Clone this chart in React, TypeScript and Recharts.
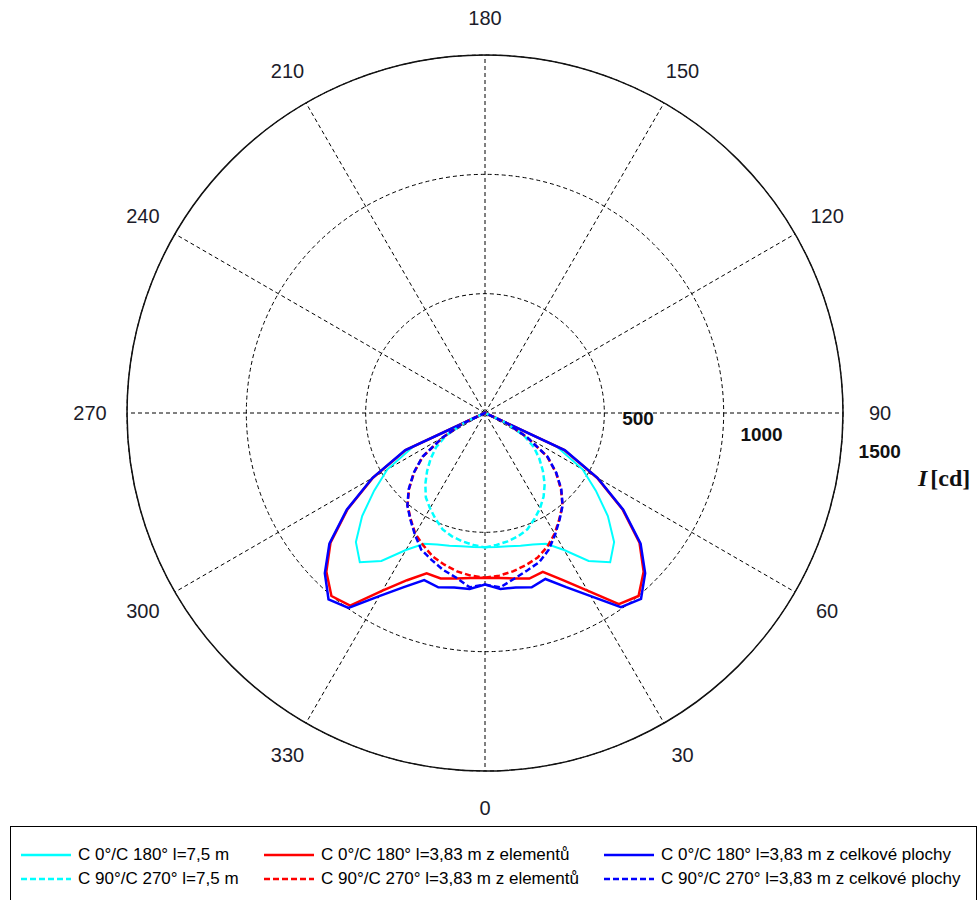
import React from 'react';
import { RadarChart, Radar, PolarGrid, PolarAngleAxis, PolarRadiusAxis, Legend } from 'recharts';

// angle gamma [deg], 0 = down, counter-clockwise on screen (30 lower right, 90 right)
const gammaDeg = [0, 5, 10, 15, 20, 25, 30, 35, 40, 45, 50, 55, 60, 65, 70,
  290, 295, 300, 305, 310, 315, 320, 325, 330, 335, 340, 345, 350, 355];

// C 0/C 180, l = 7.5 m (cyan solid)
const c0_75 = [563, 564, 567, 576, 586, 605, 663, 757, 816, 765, 672, 567, 472, 330, 0,
  0, 330, 472, 567, 672, 765, 816, 757, 663, 605, 586, 576, 567, 564];
// C 90/C 270, l = 7.5 m (cyan dashed)
const c90_75 = [563, 555, 546, 535, 519, 490, 461, 428, 389, 343, 297, 250, 188, 90, 0,
  0, 90, 188, 250, 297, 343, 389, 432, 461, 490, 519, 535, 546, 555];
// C 0/C 180, l = 3.83 m z elementu (red solid)
const c0_383e = [690, 694, 704, 718, 708, 773, 859, 978, 1001, 940, 845, 703, 542, 365, 0,
  0, 365, 542, 703, 845, 940, 1001, 985, 859, 773, 715, 718, 704, 694];
// C 90/C 270, l = 3.83 m z elementu (red dashed)
const c90_383e = [690, 684, 674, 660, 645, 618, 584, 543, 505, 450, 388, 318, 203, 98, 0,
  0, 98, 203, 318, 388, 450, 505, 543, 584, 612, 640, 658, 674, 684];
// C 0/C 180, l = 3.83 m z celkove plochy (blue solid)
const c0_383c = [719, 740, 742, 756, 740, 805, 886, 993, 1017, 949, 851, 707, 545, 370, 0,
  0, 370, 545, 707, 851, 949, 1020, 997, 886, 805, 745, 756, 742, 740];
// C 90/C 270, l = 3.83 m z celkove plochy (blue dashed)
const c90_383c = [719, 733, 705, 683, 665, 632, 588, 545, 506, 452, 390, 320, 205, 100, 0,
  0, 100, 205, 320, 390, 452, 506, 545, 588, 632, 655, 680, 700, 733];

const angleTicks = [0, 30, 60, 90, 120, 150, 180, 210, 240, 270, 300, 330];
const radiusDomain = [0, 1500];

const seriesList = [
  { key: 'c0_75', name: 'C 0°/C 180° l=7,5 m', color: '#00FFFF', dash: undefined, width: 2 },
  { key: 'c0_383e', name: 'C 0°/C 180° l=3,83 m z elementů', color: '#FF0000', dash: undefined, width: 2.5 },
  { key: 'c0_383c', name: 'C 0°/C 180° l=3,83 m z celkové plochy', color: '#0000FF', dash: undefined, width: 2.5 },
  { key: 'c90_75', name: 'C 90°/C 270° l=7,5 m', color: '#00FFFF', dash: '6 3', width: 2.5 },
  { key: 'c90_383e', name: 'C 90°/C 270° l=3,83 m z elementů', color: '#FF0000', dash: '6 3', width: 2.5 },
  { key: 'c90_383c', name: 'C 90°/C 270° l=3,83 m z celkové plochy', color: '#0000FF', dash: '6 3', width: 2.5 },
];

const data = gammaDeg.map((g, i) => ({
  gamma: g,
  c0_75: c0_75[i],
  c90_75: c90_75[i],
  c0_383e: c0_383e[i],
  c90_383e: c90_383e[i],
  c0_383c: c0_383c[i],
  c90_383c: c90_383c[i],
}));

const FONT = 'Arial, "Liberation Sans", sans-serif';

const AngleTick = (props: any) => {
  const { x, y, payload } = props;
  return (
    <text x={x} y={y} textAnchor="middle" dominantBaseline="central" fontSize={20} fontFamily={FONT} fill="#1c1c2a">
      {payload.value}
    </text>
  );
};

const RadiusTick = (props: any) => {
  const { x, y, payload } = props;
  if (!payload || payload.value === 0) return <g />;
  return (
    <text x={x + 19} y={y - 11} textAnchor="start" dominantBaseline="central" fontSize={19} fontWeight="bold" fontFamily={FONT} fill="#111">
      {payload.value}
    </text>
  );
};

const colX = [10, 253, 593];
const rowY = [28, 52];

const LegendBox = () => (
  <div style={{ position: 'relative', width: 967, height: 84, border: '1px solid #000', boxSizing: 'border-box', background: '#fff', fontFamily: FONT, fontSize: 17, color: '#000' }}>
    {seriesList.map((s, i) => (
      <div key={s.key} style={{ position: 'absolute', left: colX[i % 3], top: rowY[Math.floor(i / 3)] - 12, height: 24, display: 'flex', alignItems: 'center', whiteSpace: 'nowrap' }}>
        <svg width={50} height={6} style={{ display: 'block' }}>
          <line x1={0} y1={3} x2={50} y2={3} stroke={s.color} strokeWidth={2.5} strokeDasharray={s.dash} />
        </svg>
        <span style={{ marginLeft: 7 }}>{s.name}</span>
      </div>
    ))}
  </div>
);

export default function App() {
  return (
    <div style={{ position: 'absolute', left: 0, top: 0, width: 980, height: 900, background: '#fff', overflow: 'hidden' }}>
      <RadarChart
        width={980}
        height={900}
        data={data}
        cx={485}
        cy={413}
        innerRadius={0}
        outerRadius={358}
        startAngle={-90}
        endAngle={270}
        margin={{ top: 0, right: 0, bottom: 0, left: 0 }}
      >
        <PolarGrid gridType="circle" stroke="#000" strokeWidth={1} strokeDasharray="4 3" />
        <PolarAngleAxis
          dataKey="gamma"
          type="number"
          domain={[0, 360]}
          ticks={angleTicks}
          axisLine={{ stroke: '#111', strokeWidth: 1.5 }}
          axisLineType="circle"
          tickLine={false}
          tickSize={37}
          tick={<AngleTick />}
        />
        <PolarRadiusAxis
          angle={-7.9}
          type="number"
          domain={radiusDomain}
          tickCount={4}
          axisLine={false}
          tick={<RadiusTick />}
        />
        {seriesList.map((s) => (
          <Radar
            key={s.key}
            dataKey={s.key}
            name={s.name}
            stroke={s.color}
            strokeWidth={s.width}
            strokeDasharray={s.dash}
            fill="none"
            fillOpacity={0}
            dot={false}
            isAnimationActive={false}
            legendType="line"
          />
        ))}
        <Legend
          verticalAlign="bottom"
          content={() => <LegendBox />}
          wrapperStyle={{ position: 'absolute', left: 10, top: 826, width: 967, height: 84, bottom: 'auto' }}
        />
      </RadarChart>
      <div style={{ position: 'absolute', left: 918, top: 464, fontFamily: '"Liberation Serif", "Times New Roman", serif', fontWeight: 'bold', fontSize: 24, lineHeight: '28px', color: '#111', whiteSpace: 'nowrap' }}>
        <span style={{ fontStyle: 'italic', marginRight: 3 }}>I</span>[cd]
      </div>
    </div>
  );
}
